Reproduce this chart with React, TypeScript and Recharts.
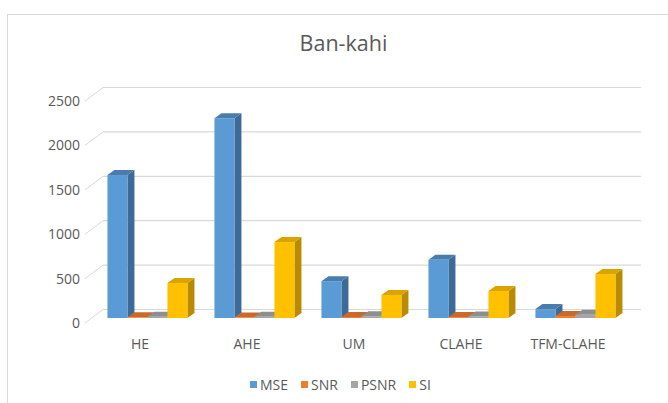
import React from 'react';
import { BarChart, Bar, XAxis, YAxis, CartesianGrid, Legend } from 'recharts';

const categories = ['HE', 'AHE', 'UM', 'CLAHE', 'TFM-CLAHE'];
const mseValues = [1610, 2250, 415, 655, 100];
const snrValues = [8, 7, 12, 10, 22];
const psnrValues = [15, 14, 20, 18, 38];
const siValues = [395, 855, 260, 305, 495];
const yTicks = [0, 500, 1000, 1500, 2000, 2500];
const seriesNames = ['MSE', 'SNR', 'PSNR', 'SI'];
const chartTitle = 'Ban-kahi';

const data = categories.map((name, i) => ({
  name,
  MSE: mseValues[i],
  SNR: snrValues[i],
  PSNR: psnrValues[i],
  SI: siValues[i],
}));

const FONT = '"Open Sans", "Liberation Sans", sans-serif';
const TEXT = '#595959';
const GRID = '#d9d9d9';

// 3D geometry
const BAR_DX = 6.5; // bar front plane offset from floor front
const BAR_DY = -5;
const DEPTH_DX = 7; // bar depth
const DEPTH_DY = -5;
const BACK_DX = 18; // back wall offset from floor front
const BACK_DY = -13.5;

const palette: any = {
  MSE: { front: '#5B9BD5', side: '#3d6a96', top: '#4a7cad' },
  SNR: { front: '#ED7D31', side: '#b05a20', top: '#c96a2a' },
  PSNR: { front: '#A5A5A5', side: '#797979', top: '#8e8e8e' },
  SI: { front: '#FFC000', side: '#b88b00', top: '#d9a400' },
};

function Bar3D(props: any) {
  const { x, y, width, height, colors } = props;
  if (x == null || y == null) return null;
  const fx = x + BAR_DX;
  const fy = y + BAR_DY;
  const w = width;
  const h = Math.max(height, 0);
  const side = `${fx + w},${fy} ${fx + w + DEPTH_DX},${fy + DEPTH_DY} ${fx + w + DEPTH_DX},${fy + h + DEPTH_DY} ${fx + w},${fy + h}`;
  const top = `${fx},${fy} ${fx + DEPTH_DX},${fy + DEPTH_DY} ${fx + w + DEPTH_DX},${fy + DEPTH_DY} ${fx + w},${fy}`;
  return (
    <g>
      <polygon points={side} fill={colors.side} />
      <polygon points={top} fill={colors.top} />
      <rect x={fx} y={fy} width={w} height={h} fill={colors.front} />
    </g>
  );
}

function GridLine(props: any) {
  const { x1, x2, y1 } = props;
  return (
    <g>
      <line x1={x1 - 1.5} y1={y1} x2={x1 - 1.5 + BACK_DX} y2={y1 + BACK_DY} stroke={GRID} strokeWidth={1} />
      <line x1={x1 - 1.5 + BACK_DX} y1={y1 + BACK_DY} x2={x2 + 19.5} y2={y1 + BACK_DY} stroke={GRID} strokeWidth={1.2} />
    </g>
  );
}

function YTick(props: any) {
  const { x, y, payload } = props;
  return (
    <text x={x + 1.5} y={y} dy="0.36em" textAnchor="end" fill={TEXT} fontSize={14} fontFamily={FONT}>
      {payload.value}
    </text>
  );
}

function XTick(props: any) {
  const { x, y, payload } = props;
  return (
    <text x={x} y={y} dy={18} textAnchor="middle" fill={TEXT} fontSize={14} fontFamily={FONT}>
      {payload.value}
    </text>
  );
}

function LegendContent(props: any) {
  const items = [...(props.payload || [])].sort(
    (a: any, b: any) => seriesNames.indexOf(a.value) - seriesNames.indexOf(b.value)
  );
  return (
    <div style={{ display: 'flex', alignItems: 'center', fontFamily: FONT, fontSize: 14, color: TEXT, lineHeight: '19px' }}>
      {items.map((p: any) => (
        <span key={p.value} style={{ display: 'flex', alignItems: 'center', marginRight: 13 }}>
          <span style={{ display: 'inline-block', width: 7, height: 7, background: p.color, marginRight: 3 }} />
          {p.value}
        </span>
      ))}
    </div>
  );
}

export default function App() {
  return (
    <div style={{ position: 'absolute', left: 0, top: 0, width: 668, height: 403, overflow: 'hidden', background: '#fff' }}>
      <div
        style={{
          position: 'absolute',
          left: 7,
          top: 14,
          width: 800,
          height: 600,
          borderTop: `1px solid ${GRID}`,
          borderLeft: `1px solid ${GRID}`,
        }}
      />
      <div
        style={{
          position: 'absolute',
          left: 143.5,
          top: 28.4,
          width: 400,
          textAlign: 'center',
          fontFamily: FONT,
          fontSize: 21.5,
          lineHeight: '30px',
          color: TEXT,
        }}
      >
        {chartTitle}
      </div>
      <div style={{ position: 'absolute', left: 0, top: 0 }}>
        <BarChart
          width={668}
          height={403}
          data={data}
          margin={{ top: 101, right: 46.5, bottom: 50, left: 0 }}
          barCategoryGap="13.5%"
          barGap={0}
        >
          <CartesianGrid vertical={false} horizontal={(p: any) => <GridLine key={p.key} {...p} />} />
          <XAxis dataKey="name" axisLine={false} tickLine={false} height={30} tick={<XTick />} interval={0} />
          <YAxis
            domain={[0, 2500]}
            ticks={yTicks}
            axisLine={false}
            tickLine={false}
            width={86.5}
            tick={<YTick />}
            interval={0}
          />
          <Legend
            layout="horizontal"
            verticalAlign="middle"
            align="center"
            itemSorter={null as any}
            wrapperStyle={{ top: 374.5, left: 250, width: 'auto' }}
            content={<LegendContent />}
          />
          {seriesNames.map((s) => (
            <Bar
              key={s}
              dataKey={s}
              fill={palette[s].front}
              isAnimationActive={false}
              shape={(p: any) => <Bar3D {...p} colors={palette[s]} />}
            />
          ))}
        </BarChart>
      </div>
    </div>
  );
}
